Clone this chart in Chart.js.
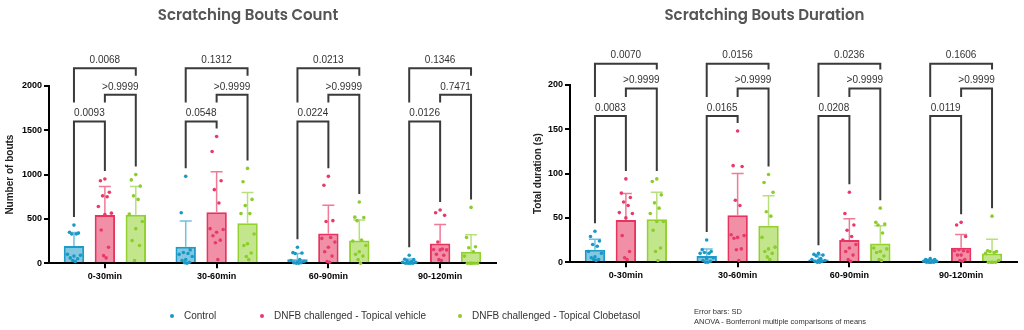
<!DOCTYPE html>
<html>
<head>
<meta charset="utf-8">
<script src="https://cdn.jsdelivr.net/npm/chart.js@4.4.1/dist/chart.umd.min.js"></script>
<style>
  body { margin: 0; background: #fff; }
  #page { position: relative; width: 1024px; height: 330px; overflow: hidden; font-family: "Liberation Sans", Arial, sans-serif; }
  .painel { position: absolute; top: 0; width: 512px; height: 330px; }
  .legenda { position: absolute; top: 310px; font-size: 10px; color: #333; display: flex; align-items: center; white-space: nowrap; }
  .legenda span.ponto { width: 4px; height: 4px; border-radius: 50%; display: inline-block; margin-right: 10px; }
  .nota { position: absolute; left: 694px; top: 307px; font-size: 7.5px; line-height: 9.5px; color: #333; }
</style>
</head>
<body>
<div id="page">
  <div class="painel" style="left:0"><canvas id="graficoContagem" width="512" height="330"></canvas></div>
  <div class="painel" style="left:512px"><canvas id="graficoDuracao" width="512" height="330"></canvas></div>
  <div class="legenda" style="left:170px"><span class="ponto" style="background:#1a98c6"></span>Control</div>
  <div class="legenda" style="left:260px"><span class="ponto" style="background:#e83a6a"></span>DNFB challenged - Topical vehicle</div>
  <div class="legenda" style="left:458px"><span class="ponto" style="background:#8ccc2c"></span>DNFB challenged - Topical Clobetasol</div>
  <div class="nota">Error bars: SD<br>ANOVA - Bonferroni multiple comparisons of means</div>
</div>
<script>
// categories (time windows) and series names
const grupos = ['0-30min', '30-60min', '60-90min', '90-120min'];
const series = ['Control', 'DNFB challenged - Topical vehicle', 'DNFB challenged - Topical Clobetasol'];

// ---- Scratching Bouts Count ----
const countControlMean = [195, 185, 45, 18];
const countVehicleMean = [545, 575, 335, 222];
const countClobetasolMean = [548, 452, 255, 130];
const countControlSd = [152, 291, 64, 30];
const countVehicleSd = [320, 456, 318, 214];
const countClobetasolSd = [317, 346, 232, 190];
// individual animals, one list per time window
const countControlPts = [
  [430, 350, 340, 330, 330, 100, 90, 80, 60, 50, 30, 20],
  [980, 570, 150, 120, 110, 100, 75, 40, 30, 10, 5, 0],
  [180, 120, 115, 110, 40, 30, 20, 10, 5, 5, 0, 0],
  [90, 45, 40, 30, 20, 10, 10, 5, 0, 0, 0, 0]
];
const countVehiclePts = [
  [950, 930, 800, 760, 750, 640, 565, 550, 375, 180, 85, 60],
  [1430, 1260, 930, 830, 680, 390, 380, 350, 310, 260, 230, 40],
  [980, 880, 480, 470, 290, 280, 240, 180, 130, 80, 20, 10],
  [600, 570, 540, 240, 160, 155, 150, 150, 100, 90, 40, 30]
];
const countClobetasolPts = [
  [1000, 940, 870, 760, 720, 555, 470, 390, 255, 200, 30],
  [1070, 920, 720, 650, 560, 560, 330, 220, 200, 115, 75, 40],
  [690, 520, 515, 480, 260, 250, 200, 130, 100, 80, 40, 0],
  [630, 290, 185, 175, 130, 80, 0, 0, 0, 0, 0, 0]
];
const countTicks = [0, 500, 1000, 1500, 2000];
// p values: Control vs vehicle, vehicle vs Clobetasol, Control vs Clobetasol
const countP01 = ['0.0093', '0.0548', '0.0224', '0.0126'];
const countP12 = ['>0.9999', '>0.9999', '>0.9999', '0.7471'];
const countP02 = ['0.0068', '0.1312', '0.0213', '0.1346'];
const countNiveis = [1600, 1900, 2200];

// ---- Scratching Bouts Duration ----
const durControlMean = [14, 7, 3, 1];
const durVehicleMean = [47.5, 53, 25, 16.4];
const durClobetasolMean = [48.5, 41, 21, 9.8];
const durControlSd = [12, 8, 5, 2];
const durVehicleSd = [30, 47, 24, 15];
const durClobetasolSd = [30.5, 34, 20, 16];
const durControlPts = [
  [35, 29, 24, 20, 18, 12, 10, 6, 5, 3, 3, 2],
  [25, 14, 12, 11, 10, 10, 5, 4, 2, 1, 0, 0],
  [10, 9, 8, 7, 4, 3, 2, 2, 1, 1, 0, 0],
  [4, 3, 3, 2, 1, 1, 1, 0, 0, 0, 0, 0]
];
const durVehiclePts = [
  [94, 78, 73, 68, 64, 56, 55, 50, 30, 12, 5, 3],
  [148, 109, 108, 70, 64, 31, 30, 28, 27, 15, 14, 2],
  [79, 55, 42, 36, 29, 25, 20, 16, 12, 8, 3, 1],
  [45, 42, 29, 14, 13, 13, 12, 8, 8, 3, 2, 1]
];
const durClobetasolPts = [
  [94, 91, 76, 67, 61, 55, 46, 46, 36, 16, 12, 2],
  [99, 90, 79, 57, 52, 28, 17, 15, 12, 10, 6, 3],
  [61, 45, 43, 42, 33, 16, 15, 12, 11, 7, 3, 2],
  [52, 13, 12, 12, 11, 10, 2, 0, 0, 0, 0, 0]
];
const durTicks = [0, 50, 100, 150, 200];
const durP01 = ['0.0083', '0.0165', '0.0208', '0.0119'];
const durP12 = ['>0.9999', '>0.9999', '>0.9999', '>0.9999'];
const durP02 = ['0.0070', '0.0156', '0.0236', '0.1606'];
const durNiveis = [165, 196, 224];

// colours per series: border, fill, error bar, dots
const corBorda = ['#1e9bc9', '#e6335f', '#92d130'];
const corFundo = ['rgba(30,155,201,0.55)', 'rgba(230,51,95,0.55)', 'rgba(146,209,48,0.55)'];
const corErro = ['#6fc1de', '#f07a98', '#b7e07c'];
const corPonto = ['#1a98c6', '#e83a6a', '#8ccc2c'];

// horizontal spread of the dots inside a bar (fraction of half bar width)
const espalhar = [0, -0.55, 0.55, -0.28, 0.28, -0.8, 0.8, 0, -0.45, 0.45, -0.15, 0.15];

const fonte = '"Liberation Sans", Arial, sans-serif';

// draws the SD error bar above each bar
const barrasErro = {
  id: 'barrasErro',
  afterDatasetDraw(chart, args) {
    const ds = chart.data.datasets[args.index];
    const ctx = chart.ctx;
    const y = chart.scales.y;
    ctx.save();
    ctx.strokeStyle = ds.corErro;
    ctx.lineWidth = 1.5;
    args.meta.data.forEach((barra, i) => {
      const topo = y.getPixelForValue(ds.data[i] + ds.sd[i]);
      ctx.beginPath();
      ctx.moveTo(barra.x, barra.y);
      ctx.lineTo(barra.x, topo);
      ctx.moveTo(barra.x - 6, topo);
      ctx.lineTo(barra.x + 6, topo);
      ctx.stroke();
    });
    ctx.restore();
  }
};

// draws one dot per animal over its bar, height from the y scale
const pontos = {
  id: 'pontos',
  afterDatasetsDraw(chart) {
    const ctx = chart.ctx;
    const y = chart.scales.y;
    ctx.save();
    chart.data.datasets.forEach((ds, k) => {
      ctx.fillStyle = ds.corPonto;
      chart.getDatasetMeta(k).data.forEach((barra, i) => {
        ds.pontos[i].forEach((v, j) => {
          const x = barra.x + espalhar[j % espalhar.length] * barra.width / 2 * 0.8;
          ctx.beginPath();
          ctx.arc(x, y.getPixelForValue(v), 1.8, 0, Math.PI * 2);
          ctx.fill();
        });
      });
    });
    ctx.restore();
  }
};

// draws the comparison brackets with p values above the plot
const colchetes = {
  id: 'colchetes',
  afterDraw(chart, args, opts) {
    const ctx = chart.ctx;
    const y = chart.scales.y;
    const pares = [[0, 1], [1, 2], [0, 2]];
    ctx.save();
    ctx.strokeStyle = '#3a3a3a';
    ctx.lineWidth = 2;
    ctx.fillStyle = '#333';
    ctx.font = '10px ' + fonte;
    ctx.textAlign = 'center';
    ctx.textBaseline = 'bottom';
    grupos.forEach((g, i) => {
      const xs = [0, 1, 2].map(k => chart.getDatasetMeta(k).data[i].x);
      // highest thing (dot or SD cap) of each series in this group
      const topoDados = [0, 1, 2].map(k => {
        const ds = chart.data.datasets[k];
        const maxPts = Math.max(...ds.pontos[i]);
        return y.getPixelForValue(Math.max(maxPts, ds.data[i] + ds.sd[i])) - 8;
      });
      pares.forEach((par, n) => {
        const yl = y.getPixelForValue(opts.niveis[n]);
        // each leg stops above the label of a lower bracket, or above the data
        const perna = k => {
          for (let m = n - 1; m >= 0; m--) {
            if (pares[m].includes(k)) return y.getPixelForValue(opts.niveis[m]) - 19;
          }
          return topoDados[k];
        };
        const x1 = xs[par[0]], x2 = xs[par[1]];
        ctx.beginPath();
        ctx.moveTo(x1, perna(par[0]));
        ctx.lineTo(x1, yl);
        ctx.lineTo(x2, yl);
        ctx.lineTo(x2, perna(par[1]));
        ctx.stroke();
        ctx.fillText(opts.rotulos[n][i], (x1 + x2) / 2, yl - 3);
      });
    });
    ctx.restore();
  }
};

function criaGrafico(id, cfg) {
  // bars (means), with their SD and the individual values carried along
  const datasets = cfg.medias.map((m, k) => ({
    type: 'bar', label: series[k], data: m,
    sd: cfg.sds[k], pontos: cfg.pontos[k], corErro: corErro[k], corPonto: corPonto[k],
    backgroundColor: corFundo[k], borderColor: corBorda[k], borderWidth: 2,
    categoryPercentage: 0.83, barPercentage: 0.66
  }));

  return new Chart(document.getElementById(id), {
    data: { labels: grupos, datasets: datasets },
    options: {
      responsive: false,
      animation: false,
      layout: { padding: cfg.padding },
      plugins: {
        legend: { display: false },
        tooltip: { enabled: false },
        title: {
          display: true, text: cfg.titulo, color: '#555',
          font: { family: 'Poppins, "Open Sans", sans-serif', size: 15, weight: '600' },
          padding: { top: 7, bottom: cfg.tituloEspaco }
        },
        colchetes: { niveis: cfg.niveis, rotulos: cfg.rotulos }
      },
      scales: {
        x: {
          type: 'category', offset: true,
          border: { color: '#000', width: 2 },
          grid: { offset: false, drawOnChartArea: false, tickLength: 5, color: '#000', lineWidth: 2 },
          ticks: { color: '#000', padding: 3, font: { family: fonte, size: 9, weight: 'bold' } }
        },
        y: {
          min: 0, max: cfg.ticks[cfg.ticks.length - 1],
          afterBuildTicks: s => { s.ticks = cfg.ticks.map(v => ({ value: v })); },
          afterFit: s => { s.width = cfg.larguraY; },
          border: { color: '#000', width: 2 },
          grid: { drawOnChartArea: false, tickLength: 5, color: '#000', lineWidth: 2 },
          ticks: { color: '#000', padding: 2, callback: v => String(v), font: { family: fonte, size: 9, weight: 'bold' } },
          title: {
            display: true, text: cfg.tituloY, color: '#222',
            font: { family: fonte, size: 10, weight: 'bold' }, padding: { top: cfg.tituloYPad, bottom: 0 }
          }
        }
      }
    },
    plugins: [barrasErro, pontos, colchetes]
  });
}

criaGrafico('graficoContagem', {
  titulo: 'Scratching Bouts Count', tituloY: 'Number of bouts',
  medias: [countControlMean, countVehicleMean, countClobetasolMean],
  sds: [countControlSd, countVehicleSd, countClobetasolSd],
  pontos: [countControlPts, countVehiclePts, countClobetasolPts],
  ticks: countTicks, niveis: countNiveis, rotulos: [countP01, countP12, countP02],
  padding: { left: 0, right: 16, top: 0, bottom: 45 }, tituloEspaco: 61,
  larguraY: 49, tituloYPad: 4
});

criaGrafico('graficoDuracao', {
  titulo: 'Scratching Bouts Duration', tituloY: 'Total duration (s)',
  medias: [durControlMean, durVehicleMean, durClobetasolMean],
  sds: [durControlSd, durVehicleSd, durClobetasolSd],
  pontos: [durControlPts, durVehiclePts, durClobetasolPts],
  ticks: durTicks, niveis: durNiveis, rotulos: [durP01, durP12, durP02],
  padding: { left: 0, right: 7, top: 0, bottom: 46 }, tituloEspaco: 60,
  larguraY: 58, tituloYPad: 20
});
</script>
</body>
</html>
